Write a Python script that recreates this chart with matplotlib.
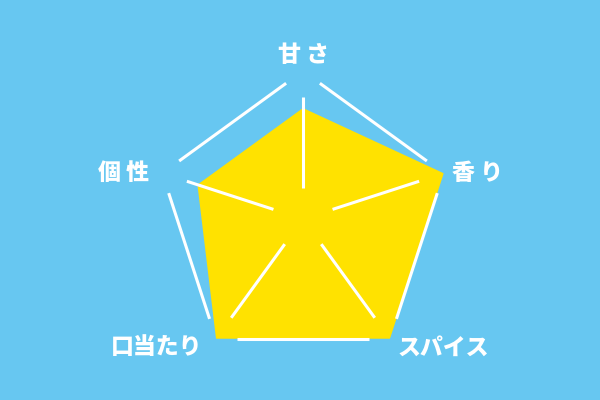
import numpy as np
import matplotlib
matplotlib.use('Agg')
import matplotlib.pyplot as plt

plt.rcParams['font.family'] = ['Noto Sans CJK JP', 'DejaVu Sans']

# data
categories = ['甘さ', '香り', 'スパイス', '口当たり', '個性']
values = [3, 4, 4, 4, 3]
max_value = 4

# label positions (figure pixels, origin top-left) and letter spacing
label_pos = [(303, 55), (477, 173), (443, 348), (157, 348), (124, 173)]
label_text = ['甘 さ', '香 り', 'スパイス', '口当たり', '個 性']

bg = '#67C7F1'
yellow = '#FFE200'

fig = plt.figure(figsize=(6, 4), dpi=100)
fig.patch.set_facecolor(bg)

cx, cy, R = 303, 219, 148
ax = fig.add_axes([(cx - R) / 600, (400 - cy - R) / 400, 2 * R / 600, 2 * R / 400],
                  projection='polar')
ax.set_facecolor('none')
ax.set_theta_zero_location('N')
ax.set_theta_direction(-1)
ax.set_ylim(0, max_value)
ax.grid(False)
ax.set_xticks([])
ax.set_yticks([])
ax.spines['polar'].set_visible(False)

n = len(categories)
theta = np.arange(n) * 2 * np.pi / n

# yellow value polygon
ax.fill(np.append(theta, theta[0]), values + values[:1], color=yellow, zorder=1, lw=0)

# spokes
r_in, r_out = 0.84, 3.3
for t in theta:
    ax.plot([t, t], [r_in, r_out], color='white', lw=2.2, solid_capstyle='butt',
            zorder=3, clip_on=False)

# outer pentagon sides with gaps at the corners
gap = 0.12
vx = max_value * np.sin(theta)
vy = max_value * np.cos(theta)
for i in range(n):
    j = (i + 1) % n
    xs = [vx[i] + (vx[j] - vx[i]) * gap, vx[i] + (vx[j] - vx[i]) * (1 - gap)]
    ys = [vy[i] + (vy[j] - vy[i]) * gap, vy[i] + (vy[j] - vy[i]) * (1 - gap)]
    th = np.arctan2(xs, ys)
    rr = np.hypot(xs, ys)
    ax.plot(th, rr, color='white', lw=2.2, solid_capstyle='butt', zorder=3, clip_on=False)

# labels
for (px, py), txt in zip(label_pos, label_text):
    fig.text(px / 600, 1 - py / 400, txt, color='white', fontsize=16.5,
             fontweight=900, ha='center', va='center')

fig.savefig('out.png', dpi=100, facecolor=bg)
